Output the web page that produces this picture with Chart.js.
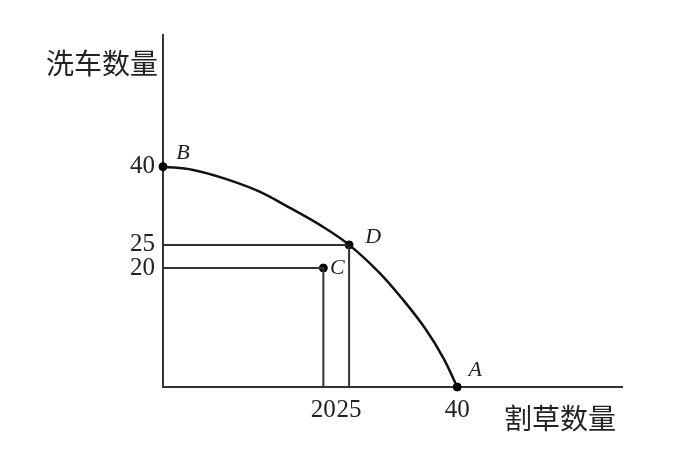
<!DOCTYPE html>
<html>
<head>
<meta charset="utf-8">
<script src="https://cdn.jsdelivr.net/npm/chart.js@4"></script>
<style>
  html, body { margin: 0; background: #fff; }
  #wrap { width: 690px; height: 461px; }
</style>
</head>
<body>
<div id="wrap"><canvas id="chart"></canvas></div>
<script>
// curve B -> D -> A (drawing is not to scale)
const curveX = [0, 4.1, 8.7, 12.9, 17.0, 21.6, 25.3, 29.3, 32.4, 35.6, 38.1, 40];
const curveY = [40, 39.4, 37.7, 35.6, 32.7, 29.2, 25.8, 20.9, 16.2, 10.7, 5.3, 0];

const pointNames = ["B", "C", "D", "A"];
const pointX = [0, 21.8, 25.3, 40];
const pointY = [40, 21.6, 25.8, 0];

const xTickValues = [21.8, 25.3, 40];
const xTickLabels = ["20", "25", "40"];
const yTickValues = [21.6, 25.8, 40];
const yTickLabels = ["20", "25", "40"];

const xTitle = "割草数量";
const yTitle = "洗车数量";

const serif = "'Liberation Serif', 'DejaVu Serif', serif";
const cjk = "'Noto Sans CJK SC', sans-serif";

function dropLine(i) {
  return [
    { x: 0, y: pointY[i] },
    { x: pointX[i], y: pointY[i] },
    { x: pointX[i], y: 0 },
  ];
}

// letter offsets from their dots
const nameOffsets = { B: [20, -13], C: [14, 0], D: [24, -8], A: [18, -17] };

const labelsPlugin = {
  id: "labels",
  afterDraw(chart) {
    const ctx = chart.ctx;
    const xs = chart.scales.x;
    const ys = chart.scales.y;
    ctx.save();
    ctx.fillStyle = "#222";
    ctx.textAlign = "center";
    ctx.textBaseline = "middle";
    ctx.font = "italic 22px " + serif;
    pointNames.forEach((name, i) => {
      const off = nameOffsets[name];
      ctx.fillText(name, xs.getPixelForValue(pointX[i]) + off[0], ys.getPixelForValue(pointY[i]) + off[1]);
    });
    ctx.font = "28px " + cjk;
    ctx.textAlign = "right";
    ctx.fillText(yTitle, 158, 63);
    ctx.fillText(xTitle, 616, 418);
    ctx.restore();
  },
};

const lineStyle = { showLine: true, pointRadius: 0, borderWidth: 2, borderColor: "#333", clip: false };

new Chart(document.getElementById("chart"), {
  type: "scatter",
  data: {
    datasets: [
      {
        data: curveX.map((x, i) => ({ x, y: curveY[i] })),
        showLine: true,
        pointRadius: 0,
        borderColor: "#111",
        borderWidth: 2.5,
        tension: 0.4,
        clip: false,
      },
      { data: dropLine(1), ...lineStyle },
      { data: dropLine(2), ...lineStyle },
      {
        data: pointX.map((x, i) => ({ x, y: pointY[i] })),
        pointRadius: 4,
        pointBackgroundColor: "#000",
        pointBorderColor: "#000",
        showLine: false,
        clip: false,
      },
    ],
  },
  options: {
    responsive: true,
    maintainAspectRatio: false,
    animation: false,
    layout: { padding: { top: 35, right: 68, left: 0, bottom: 0 } },
    plugins: { legend: { display: false }, tooltip: { enabled: false } },
    scales: {
      x: {
        type: "linear",
        min: 0,
        max: 62.4,
        grid: { display: false, drawTicks: false },
        border: { color: "#333", width: 2 },
        afterBuildTicks: (s) => { s.ticks = xTickValues.map((v) => ({ value: v })); },
        afterFit: (s) => { s.height = 74; },
        ticks: {
          autoSkip: false,
          maxRotation: 0,
          padding: 8,
          color: "#222",
          font: { family: serif, size: 25 },
          callback: (v, i) => xTickLabels[i],
        },
      },
      y: {
        type: "linear",
        min: 0,
        max: 63.9,
        grid: { display: false, drawTicks: false },
        border: { color: "#333", width: 2 },
        afterBuildTicks: (s) => { s.ticks = yTickValues.map((v) => ({ value: v })); },
        afterFit: (s) => { s.width = 163; },
        ticks: {
          autoSkip: false,
          padding: 8,
          color: "#222",
          font: { family: serif, size: 25 },
          callback: (v, i) => yTickLabels[i],
        },
      },
    },
  },
  plugins: [labelsPlugin],
});
</script>
</body>
</html>
